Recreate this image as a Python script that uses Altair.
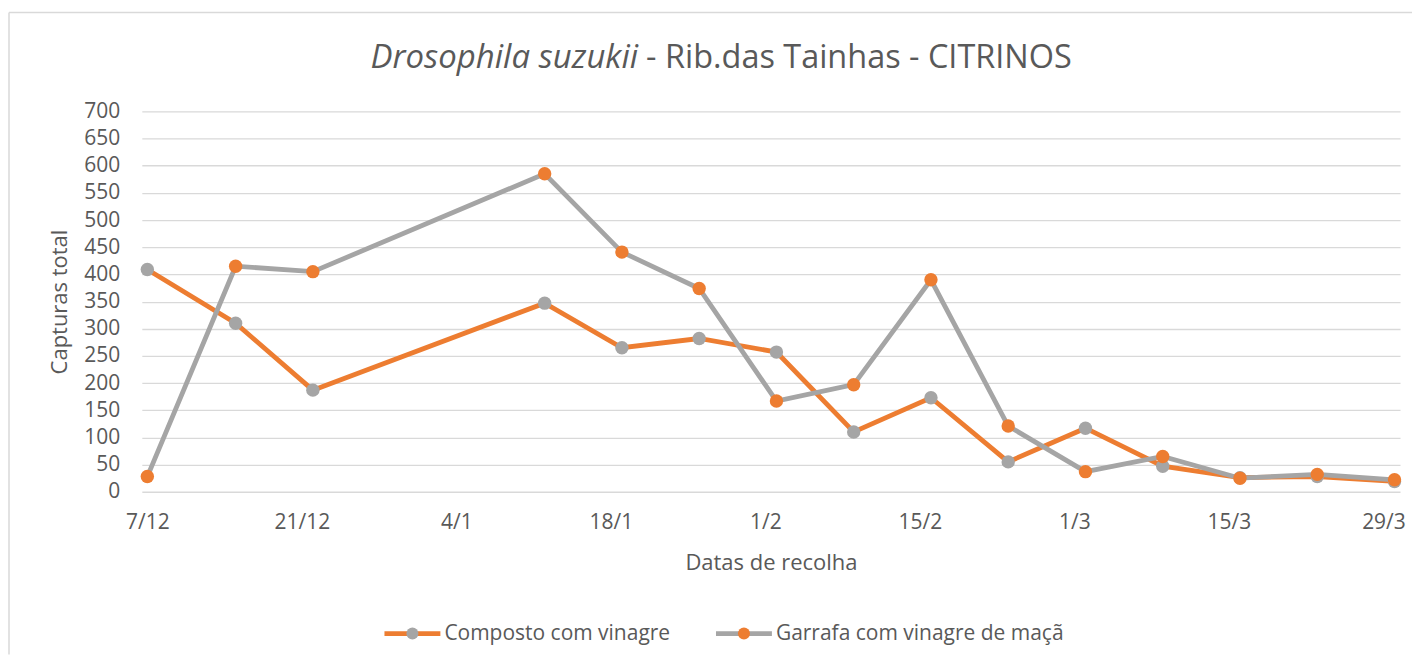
import altair as alt
import pandas as pd

# ---- data ----
dates = ["2018-12-07", "2018-12-15", "2018-12-22", "2019-01-12", "2019-01-19",
         "2019-01-26", "2019-02-02", "2019-02-09", "2019-02-16", "2019-02-23",
         "2019-03-02", "2019-03-09", "2019-03-16", "2019-03-23", "2019-03-30"]
composto = [409, 310, 187, 347, 265, 282, 257, 110, 173, 55, 117, 47, 26, 28, 19]
garrafa = [28, 415, 405, 585, 441, 374, 167, 197, 390, 121, 37, 65, 25, 32, 22]

series_names = ["Composto com vinagre", "Garrafa com vinagre de maçã"]
line_colors = ["#ED7D31", "#A5A5A5"]
marker_colors = ["#A5A5A5", "#ED7D31"]
y_ticks = list(range(0, 701, 50))
x_tick_dates = ["2018-12-07", "2018-12-21", "2019-01-04", "2019-01-18", "2019-02-01",
                "2019-02-15", "2019-03-01", "2019-03-15", "2019-03-29"]
x_domain = ["2018-12-06T12:00", "2019-03-30T12:00"]

title_italic = "Drosophila suzukii"
title_rest = "- Rib.das Tainhas - CITRINOS"
x_title = "Datas de recolha"
y_title = "Capturas total"

FONT = "Open Sans"
TXT = "#595959"
GRID = "#D9D9D9"

rows = []
for d, c, g in zip(dates, composto, garrafa):
    rows.append({"date": d, "value": c, "series": series_names[0]})
    rows.append({"date": d, "value": g, "series": series_names[1]})
df = pd.DataFrame(rows)


def dt(s):
    t = pd.Timestamp(s)
    return alt.DateTime(year=t.year, month=t.month, date=t.day, hours=t.hour, utc=True)


x_enc = alt.X(
    "date:T",
    scale=alt.Scale(type="utc", domain=[dt(v) for v in x_domain]),
    axis=alt.Axis(values=[dt(v) for v in x_tick_dates], format="%-d/%-m",
                  title=x_title, grid=False, domain=False, ticks=False,
                  labelFont=FONT, labelFontSize=21, labelColor=TXT, labelPadding=20,
                  titleFont=FONT, titleFontSize=22, titleFontWeight="normal",
                  titleColor=TXT, titlePadding=20, labelFlush=False, labelOverlap=False),
)
y_enc = alt.Y(
    "value:Q",
    scale=alt.Scale(domain=[0, 700], nice=False),
    axis=alt.Axis(values=y_ticks, title=y_title, grid=True, gridColor=GRID, gridWidth=1.3,
                  domain=False, ticks=False, labelFont=FONT, labelFontSize=21,
                  labelColor=TXT, labelPadding=22, titleFont=FONT, titleFontSize=22,
                  titleFontWeight="normal", titleColor=TXT, titlePadding=12),
)

color_enc = alt.Color("series:N", scale=alt.Scale(domain=series_names, range=line_colors),
                      legend=None)
fill_enc = alt.Fill("series:N", scale=alt.Scale(domain=series_names, range=marker_colors),
                    legend=None)

base = alt.Chart(df).encode(x=x_enc, y=y_enc)
layers = []
for name in series_names:
    sub = base.transform_filter(alt.datum.series == name)
    layers.append(sub.mark_line(strokeWidth=4.8).encode(color=color_enc))
    layers.append(sub.mark_circle(size=180, opacity=1).encode(fill=fill_enc))

one = alt.Data(values=[{"a": 1}])

# legend (line with marker of the other colour, as in the reference)
legend_layers = []
legend_x0 = [243, 575]
for i, name in enumerate(series_names):
    x0 = legend_x0[i]
    legend_layers.append(alt.Chart(one).mark_rule(color=line_colors[i], strokeWidth=4.8).encode(
        x=alt.value(x0), x2=alt.value(x0 + 56), y=alt.value(523)))
    legend_layers.append(alt.Chart(one).mark_circle(color=marker_colors[i], size=145, opacity=1).encode(
        x=alt.value(x0 + 28), y=alt.value(523)))
    legend_layers.append(alt.Chart(one).mark_text(text=name, font=FONT, fontSize=21, color=TXT,
                                                 align="left", baseline="middle").encode(
        x=alt.value(x0 + 60), y=alt.value(523)))

border_top = alt.Chart(one).mark_rule(color=GRID, strokeWidth=1.5).encode(
    x=alt.value(-133), x2=alt.value(1272), y=alt.value(-99))
border_left = alt.Chart(one).mark_rule(color=GRID, strokeWidth=1.5).encode(
    x=alt.value(-133), y=alt.value(-99), y2=alt.value(544))
t1 = alt.Chart(one).mark_text(text=title_italic, font=FONT, fontSize=33, fontStyle="italic",
                              color=TXT, align="right", baseline="middle").encode(
    x=alt.value(497), y=alt.value(-53))
t2 = alt.Chart(one).mark_text(text=title_rest, font=FONT, fontSize=32.5,
                              color=TXT, align="left", baseline="middle").encode(
    x=alt.value(505), y=alt.value(-53))

chart = alt.layer(border_top, border_left, t1, t2, *layers, *legend_layers).properties(
    width=1260, height=381,
    padding={"left": 0, "top": 3, "right": 0, "bottom": 0},
).configure_view(stroke=None)

chart.save("out.html", embed_options={"renderer": "svg", "actions": False})
